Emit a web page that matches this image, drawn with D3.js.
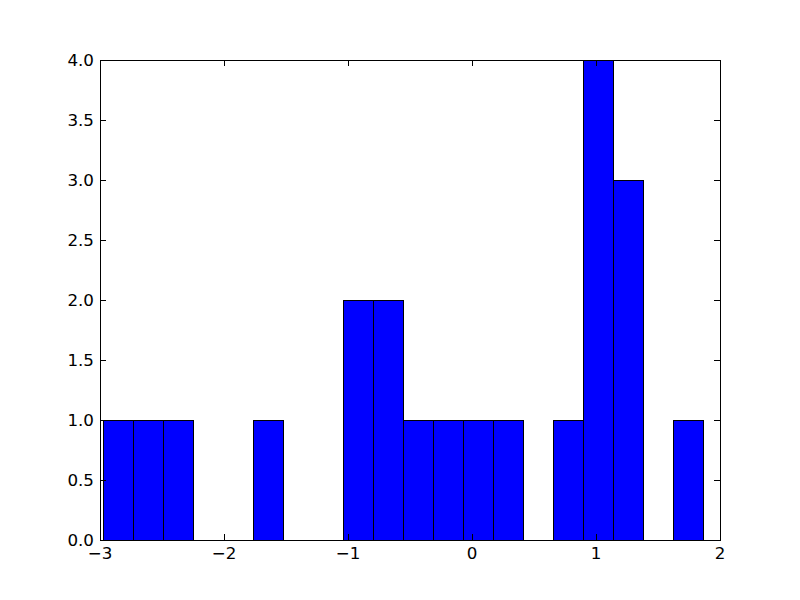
<!DOCTYPE html>
<html><head><meta charset="utf-8">
<script src="https://cdn.jsdelivr.net/npm/d3@7"></script>
<style>body{margin:0;background:#fff}svg{display:block}text{font-family:"DejaVu Sans",sans-serif;font-size:16.7px;fill:#000}</style>
</head><body><svg id="c" width="800" height="600"></svg>
<script>
const binEdges = [-2.973,-2.731,-2.489,-2.247,-2.005,-1.763,-1.521,-1.279,-1.037,-0.795,-0.553,-0.311,-0.069,0.173,0.415,0.657,0.899,1.141,1.383,1.624,1.866];
const counts = [1,1,1,0,0,1,0,0,2,2,1,1,1,1,0,1,4,3,0,1];
const xTicks = [-3,-2,-1,0,1,2];
const yTicks = [0,0.5,1,1.5,2,2.5,3,3.5,4];

const svg = d3.select("#c");
const L=100,R=720,T=60,B=540;
const x = d3.scaleLinear().domain([-3,2]).range([L,R]);
const y = d3.scaleLinear().domain([0,4]).range([B,T]);
const fmtX = d=> d<0 ? "\u2212"+Math.abs(d) : String(d);
const fmtY = d3.format(".1f");

svg.append("g").selectAll("rect").data(counts).join("rect")
  .attr("x",(d,i)=>Math.round(x(binEdges[i]))+0.5).attr("width",(d,i)=>Math.round(x(binEdges[i+1]))-Math.round(x(binEdges[i])))
  .attr("y",d=>Math.round(y(d))+0.5).attr("height",d=>Math.round(y(0))-Math.round(y(d)))
  .attr("fill","#0000ff").attr("stroke","#000").attr("stroke-width",1);

const tl=6;
const ax=svg.append("g").attr("stroke","#000").attr("stroke-width",1).attr("fill","none").attr("shape-rendering","crispEdges");
ax.append("rect").attr("x",L).attr("y",T).attr("width",R-L).attr("height",B-T);
xTicks.forEach(t=>{
  ax.append("line").attr("x1",x(t)).attr("x2",x(t)).attr("y1",B).attr("y2",B-tl);
  ax.append("line").attr("x1",x(t)).attr("x2",x(t)).attr("y1",T).attr("y2",T+tl);
});
yTicks.forEach(t=>{
  ax.append("line").attr("x1",L).attr("x2",L+tl).attr("y1",y(t)).attr("y2",y(t));
  ax.append("line").attr("x1",R).attr("x2",R-tl).attr("y1",y(t)).attr("y2",y(t));
});
svg.append("g").selectAll("text").data(xTicks).join("text")
  .attr("x",d=>x(d)).attr("y",B+19).attr("text-anchor","middle").text(fmtX);
svg.append("g").selectAll("text").data(yTicks).join("text")
  .attr("x",L-6).attr("y",d=>y(d)+6).attr("text-anchor","end").text(fmtY);
</script></body></html>
